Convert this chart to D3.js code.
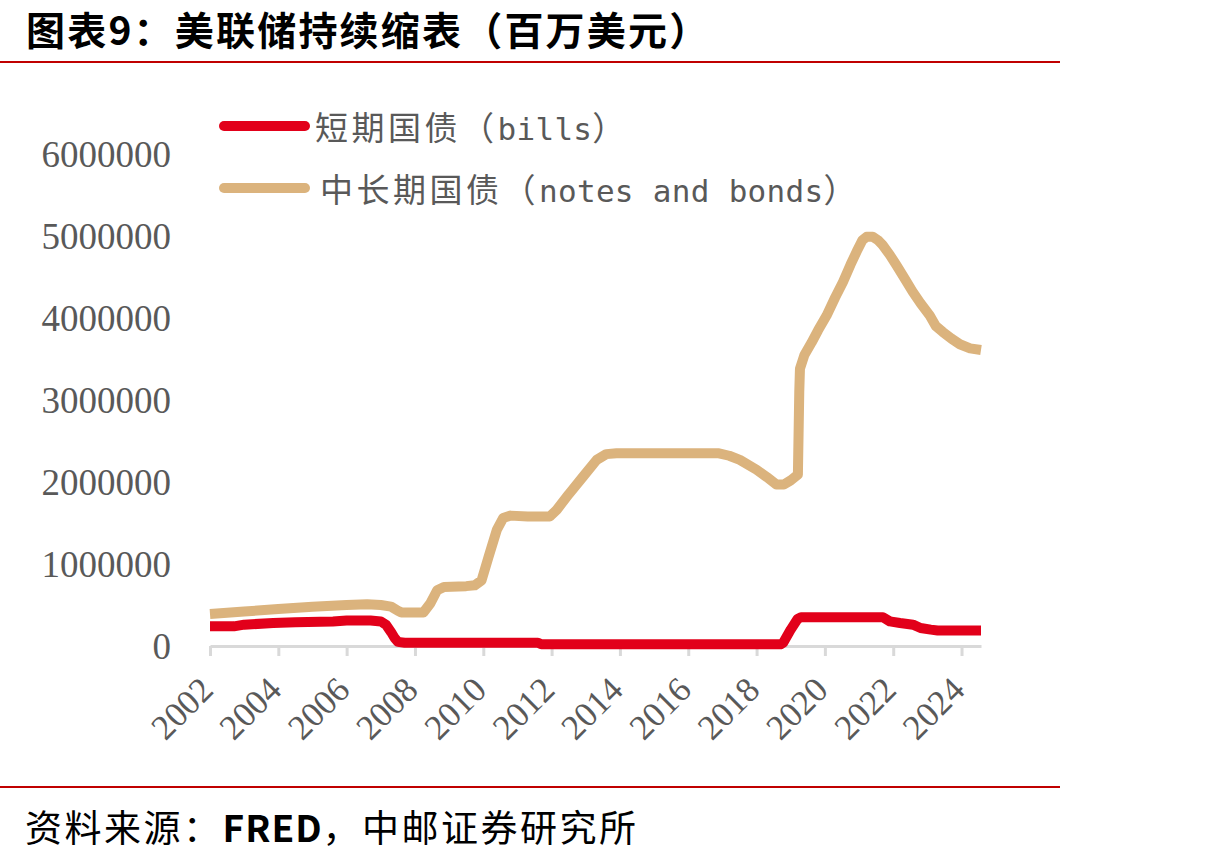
<!DOCTYPE html>
<html><head><meta charset="utf-8">
<script src="https://cdn.jsdelivr.net/npm/d3@7"></script>
<style>
html,body{margin:0;padding:0;background:#fff;}
svg{display:block;}
</style></head>
<body>
<script>
// ---- data (百万美元) ----
const notesYears = [2002.0,2003.0,2004.0,2005.0,2006.0,2006.6,2007.0,2007.3,2007.5,2007.6,2008.25,2008.45,2008.65,2008.85,2009.5,2009.75,2009.95,2010.15,2010.4,2010.58,2010.8,2011.3,2011.95,2012.15,2012.5,2012.93,2013.32,2013.6,2013.9,2015.0,2016.0,2016.9,2017.2,2017.51,2018.0,2018.3,2018.58,2018.8,2019.0,2019.21,2019.25,2019.27,2019.4,2019.61,2019.8,2020.05,2020.3,2020.53,2020.75,2020.93,2021.1,2021.22,2021.4,2021.55,2021.69,2021.9,2022.1,2022.35,2022.57,2022.8,2023.07,2023.25,2023.45,2023.7,2023.95,2024.25,2024.57];
const notesValues = [390000,420000,450000,480000,500000,510000,500000,480000,430000,410000,410000,520000,680000,720000,730000,740000,800000,1080000,1420000,1560000,1590000,1580000,1580000,1660000,1850000,2070000,2270000,2340000,2350000,2350000,2350000,2350000,2320000,2270000,2150000,2060000,1970000,1970000,2020000,2090000,3100000,3380000,3550000,3700000,3850000,4030000,4250000,4440000,4650000,4810000,4950000,4990000,4990000,4950000,4890000,4770000,4640000,4470000,4320000,4180000,4030000,3900000,3830000,3750000,3680000,3630000,3610000];
const billsYears = [2002.0,2002.7,2003.0,2003.85,2004.5,2005.6,2006.0,2006.7,2007.0,2007.15,2007.3,2007.4,2007.5,2007.7,2011.6,2011.7,2018.7,2018.78,2019.0,2019.2,2019.3,2021.7,2021.9,2022.2,2022.58,2022.8,2023.1,2023.3,2024.57];
const billsValues = [240000,240000,260000,280000,290000,300000,310000,310000,300000,260000,170000,100000,50000,40000,40000,20000,20000,40000,200000,330000,350000,350000,300000,280000,260000,220000,200000,190000,190000];
const xTicks = [2002,2004,2006,2008,2010,2012,2014,2016,2018,2020,2022,2024];
const yTicks = [0,1000000,2000000,3000000,4000000,5000000,6000000];
const seriesNames = ["短期国债（bills）","中长期国债（notes and bonds）"];
const titleText = "图表9：美联储持续缩表（百万美元）";
const sourceParts = ["资料来源：", "FRED", "，中邮证券研究所"];

const W = 1228, H = 862;
const svg = d3.select("body").append("svg").attr("width", W).attr("height", H);

const x = d3.scaleLinear().domain([2002, 2024.57]).range([210, 981]);
const y = d3.scaleLinear().domain([0, 6000000]).range([646, 154]);

const cjk = "'Noto Sans CJK SC', sans-serif";
const serif = "'Liberation Serif', 'Times New Roman', serif";
const mono = "'DejaVu Sans Mono', 'Liberation Mono', monospace";

// title
svg.append("text").attr("x", 26).attr("y", 45)
  .attr("font-family", cjk).attr("font-weight", 700).attr("font-size", 39)
  .attr("letter-spacing", 2.2)
  .attr("fill", "#000").text(titleText);
svg.append("line").attr("x1", 0).attr("x2", 1060).attr("y1", 62).attr("y2", 62)
  .attr("stroke", "#C00000").attr("stroke-width", 2);

// bottom rule + source
svg.append("line").attr("x1", 0).attr("x2", 1060).attr("y1", 787).attr("y2", 787)
  .attr("stroke", "#C00000").attr("stroke-width", 2);
const src = svg.append("text").attr("x", 25).attr("y", 842)
  .attr("font-family", cjk).attr("font-size", 37).attr("letter-spacing", 2.5)
  .attr("fill", "#000");
sourceParts.forEach((p, i) => {
  src.append("tspan").attr("font-weight", i === 1 ? 700 : 400)
    .attr("letter-spacing", i === 1 ? 1 : 2.5).text(p);
});

// y labels
svg.append("g").selectAll("text").data(yTicks).join("text")
  .attr("x", 171).attr("y", d => y(d)).attr("dy", "0.35em")
  .attr("text-anchor", "end")
  .attr("font-family", serif).attr("font-size", 37).attr("fill", "#595959")
  .text(d => d3.format("d")(d));

// x axis
const xAxis = d3.axisBottom(x).tickValues(xTicks).tickSize(10).tickSizeOuter(0).tickFormat("");
const gx = svg.append("g").attr("transform", `translate(0,${y(0)})`).call(xAxis);
gx.select(".domain").attr("stroke", "#D9D9D9").attr("stroke-width", 3);
gx.selectAll(".tick line").attr("stroke", "#D9D9D9").attr("stroke-width", 3);
svg.append("g").selectAll("text").data(xTicks).join("text")
  .attr("transform", d => `translate(${x(d) + 5},692) rotate(-45)`)
  .attr("text-anchor", "end")
  .attr("font-family", serif).attr("font-size", 35).attr("fill", "#595959")
  .text(d => d);

// lines
const line = d3.line().x(d => x(d[0])).y(d => y(d[1]));
const notes = notesYears.map((t, i) => [t, notesValues[i]]);
const bills = billsYears.map((t, i) => [t, billsValues[i]]);
const colors = ["#E2001A", "#DBB37D"];
svg.append("path").datum(notes).attr("d", line).attr("fill", "none")
  .attr("stroke", colors[1]).attr("stroke-width", 10).attr("stroke-linejoin", "round");
svg.append("path").datum(bills).attr("d", line).attr("fill", "none")
  .attr("stroke", colors[0]).attr("stroke-width", 10).attr("stroke-linejoin", "round");

// legend
const legY = [126, 188];
const legX = [315, 320];
[0, 1].forEach(i => {
  svg.append("line").attr("x1", 224).attr("x2", 305).attr("y1", legY[i]).attr("y2", legY[i])
    .attr("stroke", colors[i]).attr("stroke-width", 10).attr("stroke-linecap", "round");
  const t = svg.append("text").attr("x", legX[i]).attr("y", legY[i] + 14)
    .attr("fill", "#595959");
  const parts = seriesNames[i].match(/[\u3000-\u9fff\uff00-\uffef]+|[^\u3000-\u9fff\uff00-\uffef]+/g);
  parts.forEach(p => {
    const isLatin = /^[ -~]+$/.test(p);
    t.append("tspan").attr("font-family", isLatin ? mono : cjk)
      .attr("font-size", isLatin ? 31 : 33)
      .attr("letter-spacing", isLatin ? 0.3 : 3.5)
      .attr("xml:space", "preserve").text(p);
  });
});
</script>
</body></html>
